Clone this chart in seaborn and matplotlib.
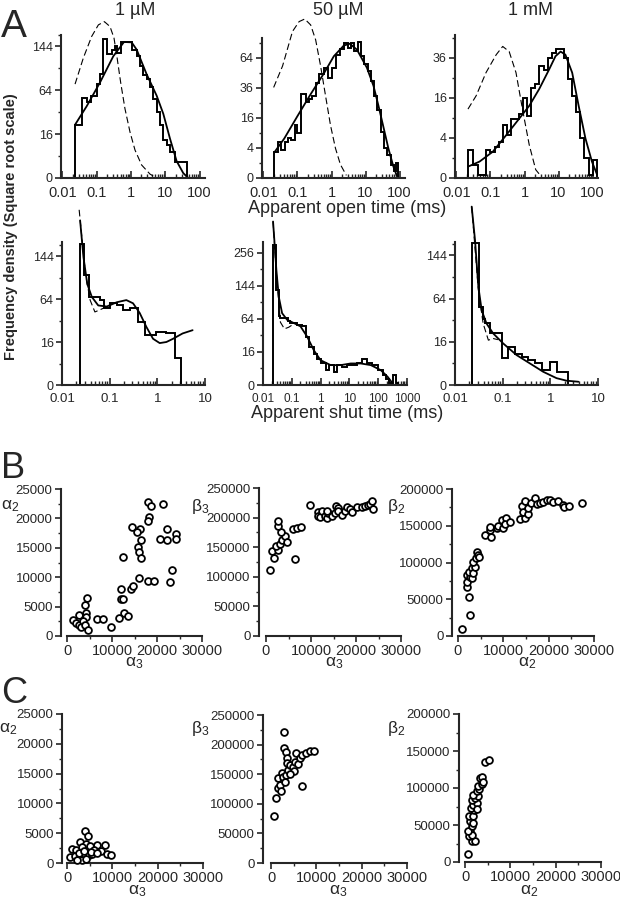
import numpy as np
import matplotlib
matplotlib.use("Agg")
import matplotlib.pyplot as plt
import seaborn as sns
from matplotlib.ticker import FixedLocator, LogLocator, NullFormatter

sns.set_style("ticks")
plt.rcParams['font.family'] = ['Liberation Sans', 'DejaVu Sans']
plt.rcParams['mathtext.fontset'] = 'custom'
plt.rcParams['mathtext.rm'] = 'Liberation Sans'

# ---------------- Panel A data (log10 ms edges / counts) ----------------
# 1 uM open
open1_edges = [-1.631, -1.437, -1.272, -1.175, -1.0, -0.903, -0.806, -0.689, -0.563, -0.466, -0.398,
               -0.301, -0.175, 0.019, 0.165, 0.262, 0.359, 0.456, 0.553, 0.650, 0.748, 0.845, 0.942,
               1.039, 1.136, 1.282, 1.621]
open1_counts = [23.6, 52.9, 47.8, 56.4, 73.3, 89.5, 160.5, 126.8, 137.1, 144.2, 130.2, 153.0, 153.0,
                137.1, 123.4, 104.2, 87.8, 81.2, 68.2, 52.0, 36.1, 23.0, 11.9, 9.0, 5.8, 2.1]
open1_fit_t = [-1.631, -1.291, -0.903, -0.515, -0.204, 0.019, 0.165, 0.456, 0.748, 0.942, 1.136, 1.330, 1.524, 1.670]
open1_fit = [23.6, 42.9, 75.9, 123.4, 153.8, 153.0, 137.1, 89.5, 56.4, 34.3, 13.0, 2.4, 0.2, 0.0]
open1_ref_t = [-1.631, -1.388, -1.146, -0.951, -0.777, -0.612, -0.495, -0.398, -0.301, -0.175, -0.029,
               0.117, 0.311, 0.553, 0.748]
open1_ref = [73.3, 120.1, 166.7, 194.9, 203.3, 190.7, 162.8, 116.9, 75.9, 39.8, 17.6, 6.5, 1.4, 0.13, 0.0]

# 50 uM open
open2_edges = [-1.680, -1.583, -1.485, -1.369, -1.272, -1.175, -1.078, -1.0, -0.883, -0.757, -0.660,
               -0.563, -0.466, -0.369, -0.223, -0.097, 0.019, 0.146, 0.262, 0.379, 0.476, 0.573, 0.670,
               0.767, 0.864, 0.961, 1.058, 1.155, 1.252, 1.350, 1.447, 1.544, 1.641, 1.738, 1.835,
               1.893, 1.961]
open2_counts = [2.9, 5.8, 3.5, 5.6, 7.2, 6.4, 12.3, 8.8, 31.2, 25.4, 27.7, 30.0, 40.4, 47.7, 54.0, 44.8,
                54.0, 67.6, 74.0, 80.8, 75.0, 80.8, 71.2, 81.7, 65.8, 57.3, 50.8, 41.9, 30.0, 20.3, 9.4,
                3.9, 2.4, 0.8, 0.2, 1.0]
open2_fit_t = [-1.680, -1.388, -1.0, -0.612, -0.223, 0.068, 0.359, 0.534, 0.748, 1.039, 1.233, 1.379,
               1.524, 1.670, 1.816, 1.913]
open2_fit = [2.9, 6.9, 17.0, 31.2, 48.6, 65.8, 77.8, 80.1, 73.1, 54.0, 37.7, 23.2, 11.6, 3.9, 0.6, 0.03]
open2_ref_t = [-1.699, -1.437, -1.146, -0.951, -0.786, -0.612, -0.466, -0.320, -0.175, -0.029, 0.117,
               0.262, 0.437]
open2_ref = [36.4, 55.7, 95.3, 108.6, 112.2, 104.0, 84.8, 55.7, 30.0, 12.3, 3.9, 0.8, 0.03]

# 1 mM open
open3_edges = [-1.66, -1.52, -1.38, -1.12, -1.0, -0.88, -0.76, -0.64, -0.52, -0.40, -0.28, -0.16, -0.04,
               0.08, 0.2, 0.32, 0.44, 0.56, 0.68, 0.80, 0.92, 1.04, 1.16, 1.28, 1.40, 1.52, 1.64, 1.76,
               1.88, 2.0, 2.12]
open3_counts = [1.9, 0.4, 0.02, 1.9, 1.7, 2.4, 3.2, 6.9, 4.5, 8.7, 8.7, 10.2, 16.0, 9.6, 20.3, 21.8,
                31.0, 29.2, 36.0, 38.8, 41.3, 41.3, 36.0, 24.2, 16.8, 10.8, 3.9, 1.0, 0.03, 0.8]
open3_fit_t = [-1.66, -1.32, -0.93, -0.54, -0.16, 0.14, 0.43, 0.72, 0.91, 1.06, 1.2, 1.40, 1.59, 1.79, 1.98, 2.13]
open3_fit = [0.32, 0.67, 1.72, 4.54, 8.70, 12.96, 19.62, 29.16, 36.84, 39.69, 37.82, 27.56, 12.96, 3.88, 0.67, 0.03]
open3_ref_t = [-1.66, -1.42, -1.13, -0.83, -0.64, -0.45, -0.25, -0.06, 0.14, 0.33, 0.48]
open3_ref = [11.8, 16.8, 27.6, 37.8, 43.0, 39.7, 27.6, 11.8, 2.7, 0.17, 0.01]

# 1 uM shut
shut1_edges = [-1.618, -1.535, -1.444, -1.201, -1.118, -0.993, -0.854, -0.715, -0.576, -0.403, -0.264,
               -0.021, 0.188, 0.361, 0.500]
shut1_counts = [173.2, 104.4, 67.2, 62.3, 50.7, 57.6, 55.2, 48.6, 50.7, 34.6, 21.5, 24.5, 23.0, 6.5]
shut1_fit_t = [-1.62, -1.55, -1.47, -1.375, -1.24, -1.06, -0.85, -0.65, -0.51, -0.37, -0.23, -0.09,
               0.05, 0.19, 0.33, 0.53, 0.74]
shut1_fit = [234.1, 141.6, 88.4, 67.2, 54.8, 53.3, 59.3, 62.4, 57.8, 44.9, 29.2, 18.5, 15.2, 16.0, 18.5, 23.0, 26.0]
shut1_ref_t = [-1.64, -1.51, -1.41, -1.31, -1.2, -1.06]
shut1_ref = [265.7, 108.2, 62.4, 46.2, 49.0, 53.3]

# 50 uM shut
shut2_edges = [-1.651, -1.535, -1.453, -1.395, -1.140, -1.047, -0.814, -0.640, -0.523, -0.407, -0.233,
               -0.116, 0.0, 0.174, 0.291, 0.465, 0.581, 0.756, 0.930, 1.105, 1.279, 1.453, 1.628, 1.802,
               1.977, 2.151, 2.267, 2.384, 2.5, 2.616, 2.674]
shut2_counts = [285.6, 132.3, 68.9, 65.6, 59.3, 56.3, 53.3, 50.4, 34.2, 21.2, 14.4, 10.2, 6.8, 3.2, 5.8,
                2.6, 5.8, 4.8, 5.8, 5.8, 7.3, 10.2, 6.8, 5.8, 3.2, 1.4, 0.6, 0.04, 1.4, 0.04]
shut2_fit_t = [-1.651, -1.605, -1.535, -1.453, -1.337, -1.163, -0.930, -0.698, -0.465, -0.233, 0.0,
               0.349, 0.698, 1.047, 1.395, 1.744, 2.093, 2.326, 2.5]
shut2_fit = [392.0, 306.3, 193.2, 114.5, 75.7, 62.4, 56.3, 50.4, 34.2, 17.6, 9.0, 5.8, 5.8, 6.8, 6.8,
             5.8, 3.2, 1.0, 0.04]
shut2_ref_t = [-1.651, -1.535, -1.395, -1.256, -1.105, -0.93]
shut2_ref = [392.0, 182.3, 57.8, 46.2, 49.0, 54.8]

# 1 mM shut
shut3_edges = [-1.650, -1.497, -1.420, -1.371, -1.266, -1.161, -1.021, -0.881, -0.741, -0.601, -0.462,
               -0.322, -0.182, -0.007, 0.133, 0.238, 0.378]
shut3_counts = [171.6, 51.8, 37.8, 32.5, 22.8, 22.8, 6.1, 12.5, 8.4, 6.8, 5.3, 4.2, 1.9, 4.6, 1.5, 1.5]
shut3_fit_t = [-1.65, -1.58, -1.51, -1.44, -1.34, -1.20, -0.99, -0.71, -0.43, -0.15, 0.13, 0.34, 0.59]
shut3_fit = [272.3, 179.6, 82.8, 47.6, 32.5, 22.8, 14.8, 7.7, 4.0, 1.5, 0.4, 0.16, 0.09]
shut3_ref_t = [-1.65, -1.51, -1.41, -1.30, -1.20, -1.10]
shut3_ref = [272.3, 77.4, 32.5, 17.2, 18.5, 17.6]

# ---------------- Panel B / C data ----------------
b1_a3 = [18070, 18670, 21400, 18300, 17930, 14370, 16220, 15480, 22300, 24220, 24150, 20670, 22300, 16370,
         15700, 16070, 16370, 12520, 23260, 15930, 18070, 19330, 22900, 12000, 14150, 14590, 11930, 12370,
         4520, 3930, 12740, 13630, 2740, 4220, 4220, 6590, 8070, 1400, 2000, 2600, 3200, 3600, 4000, 4600,
         9800, 11500]
b1_a2 = [22820, 22150, 22430, 20280, 19600, 18590, 18190, 17740, 18190, 17340, 16500, 16500, 16330, 16330,
         15200, 14350, 13220, 13390, 11240, 9830, 9430, 9430, 9150, 8020, 8020, 8470, 6330, 6210,
         6500, 5310, 3900, 3330, 3500, 3900, 3220, 2940, 2940, 2770, 2200, 1800, 1500, 2500, 1900, 1000,
         1500, 3000]
b2_a3 = [890, 1850, 1410, 2590, 2150, 3110, 3630, 4220, 4590, 3330, 2740, 2590, 6070, 6810, 7780, 6440,
         9780, 11630, 11480, 12000, 12520, 13110, 13480, 13850, 14590, 15330, 15480, 15930, 16070, 16810,
         17560, 17930, 18670, 19040, 20150, 21260, 22000, 22590, 23110, 23630, 23850, 13480]
b2_b3 = [111400, 132300, 143700, 145400, 152100, 155500, 162300, 169100, 159500, 176500, 186100, 194600,
         180400, 182100, 184900, 129500, 221700, 209300, 201900, 200200, 210400, 201900, 198500, 207600,
         203000, 207600, 218900, 216100, 210400, 204700, 210400, 217800, 214400, 208700, 217800, 217800,
         220000, 221700, 223400, 227400, 214400, 210400]
b3_a2 = [2650, 2500, 2060, 1910, 2060, 2650, 2500, 3010, 3010, 3380, 3750, 3380, 3970, 4120, 4490, 4630,
         5960, 7060, 7210, 7060, 8680, 8900, 9850, 9630, 10590, 10370, 11470, 13680, 14790, 14040, 14260,
         14780, 15510, 15510, 16030, 16990, 17350, 18090, 18820, 19560, 20290, 21030, 22130, 23090, 23380,
         24560, 27280, 900]
b3_b2 = [28800, 52900, 66000, 73200, 83200, 80900, 87700, 92200, 78600, 85400, 94500, 101300, 105800,
         114900, 110400, 108100, 137600, 144400, 135300, 148000, 146600, 149800, 146600, 157900, 160200,
         152500, 155700, 158900, 160200, 176900, 169300, 183700, 166100, 174700, 180600, 187400, 179700,
         181500, 182900, 185200, 185200, 182900, 184300, 178400, 176100, 177000, 181500, 10000]

c1_a3 = [4070, 4590, 2960, 4300, 1110, 2070, 3330, 5040, 6670, 8300, 5930, 7410, 8890, 9780, 740, 1850,
         2960, 3850, 4810, 5560, 3330, 2220, 4300, 2590, 3700, 5330, 6670]
c1_a2 = [5350, 4490, 3540, 3260, 2420, 2130, 2700, 2810, 2980, 2980, 2250, 2020, 1570, 1290, 1010, 1180,
         1010, 1460, 1290, 1460, 450, 560, 730, 1690, 1970, 1850, 1690]
c2_a3 = [660, 1100, 2870, 2870, 3310, 3460, 1620, 1990, 2130, 1620, 2350, 2720, 3090, 3310, 3820, 3600,
         4190, 4780, 5290, 5510, 6030, 6400, 6760, 7720, 8600, 9490, 6760, 5070, 4190]
c2_b3 = [79000, 110600, 221700, 194600, 187900, 176600, 127500, 131500, 121900, 142800, 151200, 144500,
         137100, 148400, 156900, 168200, 165300, 161400, 171000, 186200, 167000, 176600, 182300, 186200,
         189600, 189600, 129800, 155800, 150100]
c3_a2 = [740, 1470, 2210, 960, 1100, 1470, 740, 1470, 1100, 1840, 960, 1690, 1990, 1250, 1840, 2570, 1470,
         2210, 2940, 1840, 2570, 3160, 2940, 3680, 3310, 3680, 4040, 4410, 5290, 2570]
c3_b2 = [10800, 27900, 27900, 34700, 41400, 36900, 41400, 48200, 55000, 52700, 62600, 61700, 69800, 73000,
         77500, 79700, 84200, 86500, 89600, 91000, 95500, 98600, 102300, 105900, 113500, 114900, 107700,
         134700, 137400, 71500]

# ---------------- figure ----------------
W, H = 620, 899
fig = plt.figure(figsize=(6.2, 8.99), dpi=100)


def box(x0, y0, x1, y1):
    return [x0 / W, 1 - y1 / H, (x1 - x0) / W, (y1 - y0) / H]


def sqrt_fwd(v):
    return np.sqrt(np.clip(v, 0, None))


def hist_panel(rect, edges, counts, fit_t, fit, ref_t, ref, ytop, xlim, yticks, yminor, xticks, xlabels,
               xfs=10.5):
    ax = fig.add_axes(box(*rect))
    ax.set_xscale('log')
    ax.set_yscale('function', functions=(sqrt_fwd, np.square))
    ax.stairs(counts, 10 ** np.array(edges), baseline=0, color='black', lw=1.4, clip_on=False)
    ax.plot(10 ** np.array(fit_t), fit, color='black', lw=1.3, clip_on=False)
    ax.plot(10 ** np.array(ref_t), ref, color='black', lw=0.8, ls=(0, (6, 3)), clip_on=False)
    ax.set_xlim(*xlim)
    ax.set_ylim(0, ytop)
    ax.set_yticks(yticks)
    ax.set_yticklabels([str(v) for v in yticks], fontsize=9)
    ax.yaxis.set_minor_locator(FixedLocator(yminor))
    ax.set_xticks(xticks)
    ax.set_xticklabels(xlabels, fontsize=xfs)
    ax.xaxis.set_minor_locator(LogLocator(base=10, subs=np.arange(2, 10), numticks=30))
    ax.xaxis.set_minor_formatter(NullFormatter())
    ax.tick_params(axis='x', which='major', direction='in', length=5, width=1.2, pad=5.5)
    ax.tick_params(axis='x', which='minor', direction='in', length=3, width=1.0)
    ax.tick_params(axis='y', which='major', direction='out', length=4, width=1.2, pad=2)
    ax.tick_params(axis='y', which='minor', direction='out', length=2.5, width=1.0)
    for s in ['top', 'right']:
        ax.spines[s].set_visible(False)
    for s in ['left', 'bottom']:
        ax.spines[s].set_linewidth(1.5)
    ax.patch.set_alpha(0)
    return ax


dec5 = [0.01, 0.1, 1, 10, 100]
lab5 = ['0.01', '0.1', '1', '10', '100']
dec4 = [0.01, 0.1, 1, 10]
lab4 = ['0.01', '0.1', '1', '10']

hist_panel((61, 35, 205, 178), open1_edges, open1_counts, open1_fit_t, open1_fit, open1_ref_t, open1_ref,
           170, (0.0091, 144), [0, 16, 64, 144], [4, 36, 100, 169], dec5, lab5)
hist_panel((262, 38, 405, 178), open2_edges, open2_counts, open2_fit_t, open2_fit, open2_ref_t, open2_ref,
           87, (0.0091, 144), [0, 4, 16, 36, 64], [1, 9, 25, 49, 81], dec5, lab5)
hist_panel((455, 35, 598, 178), open3_edges, open3_counts, open3_fit_t, open3_fit, open3_ref_t, open3_ref,
           50.8, (0.0091, 144), [0, 4, 16, 36], [1, 9, 25, 49], dec5, lab5)
hist_panel((62, 242, 205, 385), shut1_edges, shut1_counts, shut1_fit_t, shut1_fit, shut1_ref_t, shut1_ref,
           177, (0.01, 10), [0, 16, 64, 144], [4, 36, 100, 169], dec4, lab4, xfs=9.5)
hist_panel((263, 242, 407, 385), shut2_edges, shut2_counts, shut2_fit_t, shut2_fit, shut2_ref_t, shut2_ref,
           300, (0.01, 1000), [0, 16, 64, 144, 256], [4, 36, 100, 196], dec5 + [1000], lab5 + ['1000'],
           xfs=8.5)
hist_panel((455, 242, 598, 385), shut3_edges, shut3_counts, shut3_fit_t, shut3_fit, shut3_ref_t, shut3_ref,
           175, (0.01, 10), [0, 16, 64, 144], [4, 36, 100, 169], dec4, lab4, xfs=9.5)


def scatter_panel(spine_x, zero_x, end_x, top_y, bot_y, xs, ys, ymax, ystep):
    ax = fig.add_axes(box(spine_x, top_y, end_x, bot_y))
    per_px = 30000 / (end_x - zero_x)
    sns.scatterplot(x=xs, y=ys, ax=ax, s=24, color='white', edgecolor='black', linewidth=1.3,
                    marker='o', legend=False, clip_on=False, zorder=3)
    ax.set_xlim(-(zero_x - spine_x) * per_px, 30000)
    ax.set_ylim(0, ymax)
    ax.spines['bottom'].set_bounds(0, 30000)
    ax.spines['left'].set_bounds(0, ymax)
    for s in ['top', 'right']:
        ax.spines[s].set_visible(False)
    for s in ['left', 'bottom']:
        ax.spines[s].set_linewidth(1.5)
    ax.set_xticks([0, 10000, 20000, 30000])
    ax.set_xticklabels(['0', '10000', '20000', '30000'], fontsize=10.5)
    ax.xaxis.set_minor_locator(FixedLocator([5000, 15000, 25000]))
    yt = np.arange(0, ymax + 1, ystep)
    ax.set_yticks(yt)
    ax.set_yticklabels([str(int(v)) for v in yt], fontsize=9.5)
    ax.yaxis.set_minor_locator(FixedLocator(yt[:-1] + ystep / 2))
    ax.tick_params(which='major', direction='out', length=4, width=1.2, pad=2)
    ax.tick_params(which='minor', direction='out', length=2.5, width=1.0)
    ax.patch.set_alpha(0)
    return ax


scatter_panel(61, 67, 202, 489, 636, b1_a3, b1_a2, 25000, 5000)
scatter_panel(259, 266, 401, 488, 636, b2_a3, b2_b3, 250000, 50000)
scatter_panel(452, 458, 594, 489, 636, b3_a2, b3_b2, 200000, 50000)
scatter_panel(62, 67, 203, 714, 863, c1_a3, c1_a2, 25000, 5000)
scatter_panel(263, 271, 407, 715, 863, c2_a3, c2_b3, 250000, 50000)
scatter_panel(459, 465, 601, 714, 862, c3_a2, c3_b2, 200000, 50000)


def ftext(x, y, s, **kw):
    fig.text(x / W, 1 - y / H, s, **kw)


# panel letters
ftext(1, 37, 'A', fontsize=28, va='baseline')
ftext(1, 478, 'B', fontsize=26, va='baseline')
ftext(1, 703, 'C', fontsize=26, va='baseline')

# concentration titles
ftext(135, 15, '1 µM', fontsize=13, ha='center', va='baseline')
ftext(338, 15, '50 µM', fontsize=13, ha='center', va='baseline')
ftext(531, 15, '1 mM', fontsize=13, ha='center', va='baseline')

ftext(347, 213, 'Apparent open time (ms)', fontsize=13, ha='center', va='baseline')
ftext(347, 418, 'Apparent shut time (ms)', fontsize=13, ha='center', va='baseline')
ftext(11, 227, 'Frequency density (Square root scale)', fontsize=10.5, fontweight='bold',
      rotation=90, ha='center', va='center')

# axis symbols
greek = {'a2': r'$\mathregular{α_2}$', 'a3': r'$\mathregular{α_3}$',
         'b2': r'$\mathregular{β_2}$', 'b3': r'$\mathregular{β_3}$'}
for (x, y, k) in [(10, 506, 'a2'), (200, 506, 'b3'), (396, 507, 'b2'),
                  (8, 729, 'a2'), (200, 729, 'b3'), (396, 729, 'b2')]:
    ftext(x, y, greek[k], fontsize=12.5, ha='center', va='center')
for (x, y, k) in [(134, 663, 'a3'), (334, 663, 'a3'), (527, 663, 'a2'),
                  (137, 891, 'a3'), (338, 891, 'a3'), (529, 891, 'a2')]:
    ftext(x, y, greek[k], fontsize=12.5, ha='center', va='center')

fig.savefig('out.png', dpi=100)
